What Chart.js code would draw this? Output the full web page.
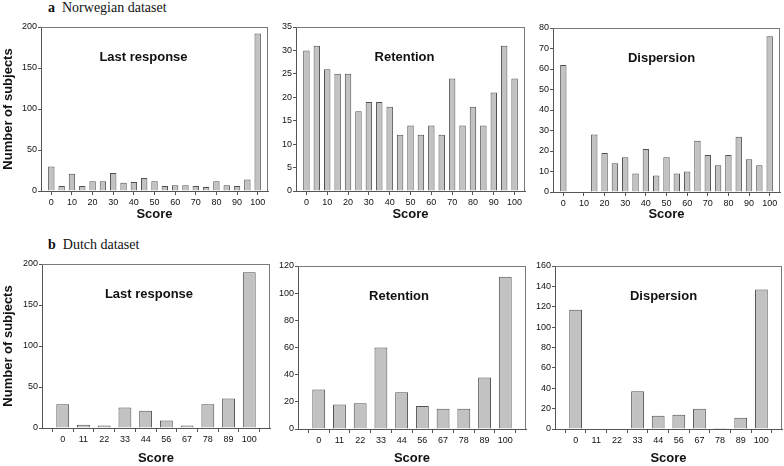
<!DOCTYPE html>
<html>
<head>
<meta charset="utf-8">
<script src="https://cdn.jsdelivr.net/npm/chart.js@4"></script>
<style>
  body { margin: 0; background: #fff; width: 784px; height: 466px; position: relative; overflow: hidden; }
  canvas { position: absolute; }
  .hdr { position: absolute; font-family: "Liberation Serif", "Times New Roman", serif; font-size: 14px; line-height: 14px; color: #111; white-space: nowrap; }
  .hdr b { margin-right: 7px; }
  .frame { position: absolute; box-sizing: border-box; border-top: 1px solid #7a7a7a; border-right: 1px solid #7a7a7a; pointer-events: none; z-index: 10; }
</style>
</head>
<body>
<div class="hdr" style="left:48px; top:1px"><b>a</b>Norwegian dataset</div>
<div class="hdr" style="left:48px; top:238px"><b>b</b>Dutch dataset</div>
<canvas id="c1"></canvas>
<canvas id="c2"></canvas>
<canvas id="c3"></canvas>
<canvas id="c4"></canvas>
<canvas id="c5"></canvas>
<canvas id="c6"></canvas>
<script>
// score categories
const scoresNorway = [0, 5, 10, 15, 20, 25, 30, 35, 40, 45, 50, 55, 60, 65, 70, 75, 80, 85, 90, 95, 100];
const scoresDutch = [0, 11, 22, 33, 44, 56, 67, 78, 89, 100];

// number of subjects, Norwegian dataset
const norLastResponse = [30, 6, 21, 6, 12, 12, 22, 10, 11, 16, 12, 6, 7, 7, 6, 5, 12, 7, 6, 14, 192];
const norRetention = [30, 31, 26, 25, 25, 17, 19, 19, 18, 12, 14, 12, 14, 12, 24, 14, 18, 14, 21, 31, 24];
const norDispersion = [62, 0, 0, 28, 19, 14, 17, 9, 21, 8, 17, 9, 10, 25, 18, 13, 18, 27, 16, 13, 76];

// number of subjects, Dutch dataset
const dutLastResponse = [29, 4, 3, 25, 21, 9, 3, 29, 36, 190];
const dutRetention = [29, 18, 19, 60, 27, 17, 15, 15, 38, 112];
const dutDispersion = [117, 0, 0, 37, 13, 14, 20, 1, 11, 137];

const FONT = '"Liberation Sans", Arial, sans-serif';
const TXT = '#111';

// panel name inside the plot area
const panelName = {
  id: 'panelName',
  afterDraw(chart, args, o) {
    const { ctx, chartArea: a } = chart;
    ctx.save();
    ctx.fillStyle = TXT;
    ctx.font = 'bold 13px ' + FONT;
    ctx.textAlign = 'center';
    ctx.textBaseline = 'middle';
    ctx.fillText(o.text, (a.left + a.right) / 2 + o.dx, a.top + 30);
    ctx.restore();
  }
};

function panel(id, g, cats, vals, yMax, yStep, name, dx, yTitle, everyOther) {
  const cv = document.getElementById(id);
  const left = g.L - g.yw, top = g.T - 10;
  const w = g.R + 6 - left, h = g.bottom - top;
  cv.width = w; cv.height = h;
  cv.style.left = left + 'px'; cv.style.top = top + 'px';
  cv.style.width = w + 'px'; cv.style.height = h + 'px';

  // one empty slot at each end, as in the original axes
  const labels = [''].concat(cats.map(String), ['']);
  const data = [null].concat(vals, [null]);
  const n = labels.length;

  const chart = new Chart(cv, {
    type: 'bar',
    data: {
      labels: labels,
      datasets: [{
        data: data,
        backgroundColor: '#c2c2c2',
        borderColor: '#505050',
        borderWidth: 1,
        barPercentage: 0.62,
        categoryPercentage: 1
      }]
    },
    plugins: [panelName],
    options: {
      responsive: false,
      animation: false,
      layout: { padding: { top: 10, right: 6, left: 0, bottom: 0 } },
      plugins: {
        legend: { display: false },
        tooltip: { enabled: false },
        panelName: { text: name, dx: dx }
      },
      scales: {
        x: {
          offset: false,
          grid: { drawOnChartArea: false, tickLength: 4, color: '#555', offset: !everyOther },
          border: { color: '#555' },
          ticks: {
            autoSkip: false, maxRotation: 0, minRotation: 0, padding: 2,
            color: TXT, font: { size: 9, family: FONT },
            callback: (v, i) => {
              if (i === 0 || i === n - 1) return everyOther ? null : '';
              const c = cats[i - 1];
              if (everyOther) return c % 10 === 0 ? String(c) : null;
              return String(c);
            }
          },
          title: { display: true, text: 'Score', color: TXT, padding: 0, font: { size: 13, weight: 'bold', family: FONT } },
          afterFit: s => { s.height = g.bottom - g.B; }
        },
        y: {
          min: 0, max: yMax,
          grid: { drawOnChartArea: false, tickLength: 3, color: '#555' },
          border: { color: '#555' },
          ticks: { stepSize: yStep, padding: 1, color: TXT, font: { size: 9, family: FONT } },
          title: { display: yTitle, text: 'Number of subjects', color: TXT, padding: { top: 1, bottom: 0 }, font: { size: 13, weight: 'bold', family: FONT } },
          afterFit: s => { s.width = g.yw; }
        }
      }
    }
  });

  // top and right sides of the box, placed on the chart's own plot area
  const a = chart.chartArea;
  const fr = document.createElement('div');
  fr.className = 'frame';
  fr.style.left = (left + a.left) + 'px';
  fr.style.top = (top + a.top) + 'px';
  fr.style.width = (a.right - a.left) + 'px';
  fr.style.height = (a.bottom - a.top) + 'px';
  document.body.appendChild(fr);
}

panel('c1', { L: 41, R: 268, T: 27, B: 191, bottom: 222, yw: 41 }, scoresNorway, norLastResponse, 200, 50, 'Last response', -11, true, true);
panel('c2', { L: 296, R: 525, T: 27, B: 191, bottom: 222, yw: 30 }, scoresNorway, norRetention, 35, 5, 'Retention', -6, false, true);
panel('c3', { L: 553, R: 780, T: 28, B: 192, bottom: 222, yw: 30 }, scoresNorway, norDispersion, 80, 10, 'Dispersion', -5, false, true);
panel('c4', { L: 42, R: 270, T: 264, B: 428, bottom: 466, yw: 42 }, scoresDutch, dutLastResponse, 200, 50, 'Last response', -7, true, false);
panel('c5', { L: 298, R: 526, T: 266, B: 429, bottom: 466, yw: 30 }, scoresDutch, dutRetention, 120, 20, 'Retention', -13, false, false);
panel('c6', { L: 555, R: 782, T: 266, B: 429, bottom: 466, yw: 30 }, scoresDutch, dutDispersion, 160, 20, 'Dispersion', -5, false, false);
</script>
</body>
</html>
